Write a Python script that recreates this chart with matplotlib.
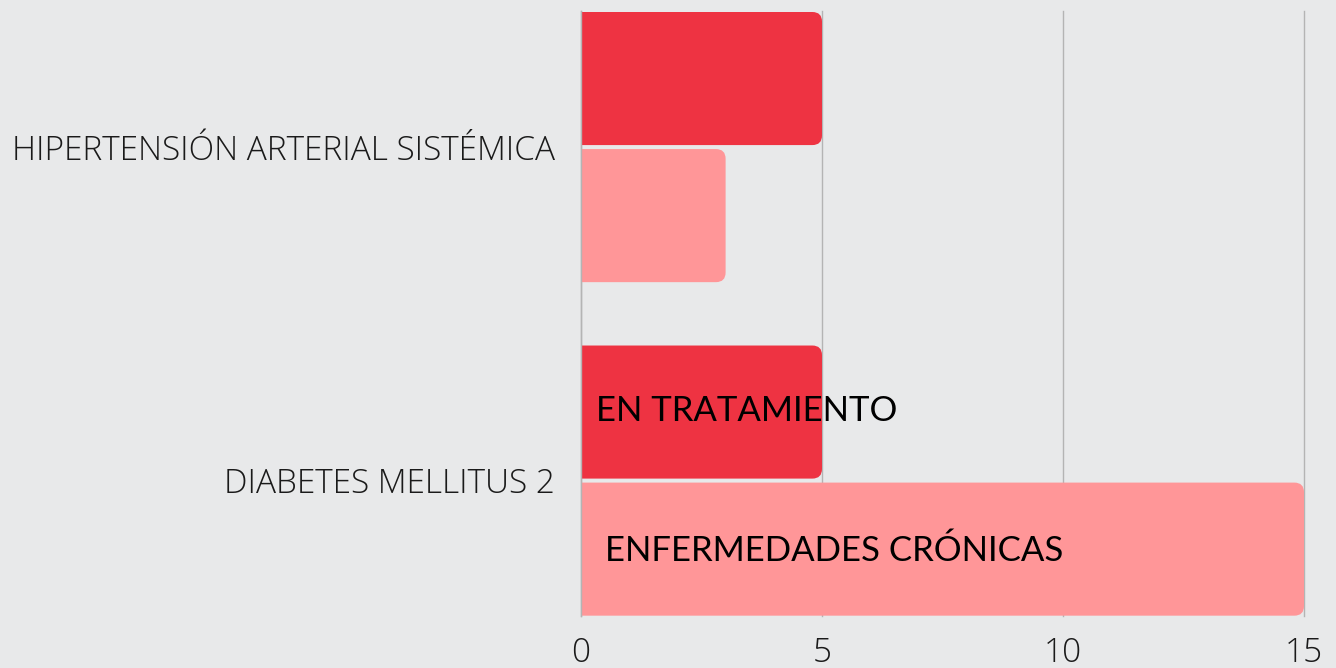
import numpy as np
import matplotlib
matplotlib.use("Agg")
import matplotlib.pyplot as plt
from matplotlib.patches import FancyBboxPatch

# data
categories = ["HIPERTENSIÓN ARTERIAL SISTÉMICA", "DIABETES MELLITUS 2"]
series_names = ["EN TRATAMIENTO", "ENFERMEDADES CRÓNICAS"]
en_tratamiento = [5, 5]
enfermedades_cronicas = [3, 15]
x_ticks = [0, 5, 10, 15]

colors = ["#EE3342", "#FF9698"]
bg = "#E8E9EA"

fig = plt.figure(figsize=(13.36, 6.68), dpi=100, facecolor=bg)
ax = fig.add_axes([581 / 1336, 1 - 616 / 668, 723 / 1336, 605 / 668])
ax.set_facecolor("none")

pos = np.arange(len(categories))
h = 0.399
off = 0.2055

bars1 = ax.barh(pos - off, en_tratamiento, height=h, color=colors[0])
bars2 = ax.barh(pos + off, enfermedades_cronicas, height=h, color=colors[1])

ax.set_xlim(0, 15)
ax.set_ylim(1.406, -0.408)

# swap plain bars for rounded ones (left edge clipped by the axes)
aspect = (1.814 / 605) / (15 / 723)
for bars in (bars1, bars2):
    for r in bars:
        x, y, w, hh = r.get_x(), r.get_y(), r.get_width(), r.get_height()
        p = FancyBboxPatch((x - 0.4, y), w + 0.4, hh,
                           boxstyle="round,pad=0,rounding_size=0.2",
                           mutation_aspect=aspect,
                           facecolor=r.get_facecolor(), edgecolor="none", zorder=2)
        ax.add_patch(p)
        r.set_visible(False)

ax.set_xticks(x_ticks)
ax.set_xticklabels([str(t) for t in x_ticks])
ax.set_yticks(pos)
ax.set_yticklabels(categories)
ax.tick_params(axis="both", length=0, colors="#1a1a1a", labelsize=24)
ax.tick_params(axis="x", pad=15)
ax.tick_params(axis="y", pad=19)
for lab in ax.get_xticklabels() + ax.get_yticklabels():
    lab.set_fontfamily("Open Sans")
    lab.set_fontweight("light")

ax.grid(axis="x", color="#B4B4B4", linewidth=1, zorder=1)
for gl in ax.get_xgridlines():
    gl.set_clip_on(False)
ax.set_axisbelow(True)
for s in ["top", "right", "bottom"]:
    ax.spines[s].set_visible(False)
ax.spines["left"].set_color("#B4B4B4")
ax.spines["left"].set_linewidth(1)

# series labels written over the bars
ax.text(0.31, 0.79, series_names[0], fontsize=25, family="Lato",
        va="center", ha="left", color="black", zorder=5)
ax.text(0.5, 1.21, series_names[1], fontsize=25, family="Lato",
        va="center", ha="left", color="black", zorder=5)

fig.savefig("out.png", dpi=100, facecolor=bg)
